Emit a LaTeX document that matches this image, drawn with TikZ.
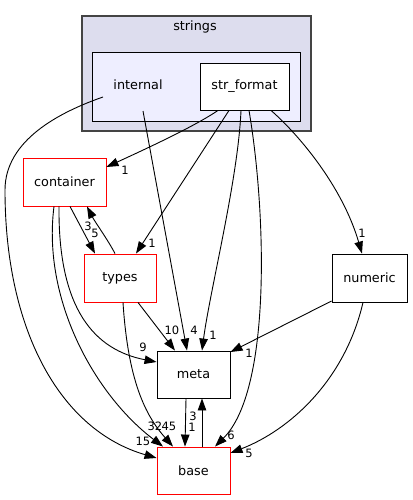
\documentclass[tikz,border=0pt]{standalone}
\usepackage{fontspec}
\setmainfont{DejaVu Sans}
\usetikzlibrary{arrows.meta}
\definecolor{outerfill}{HTML}{DDDDEE}
\definecolor{outerdraw}{HTML}{444444}
\definecolor{innerfill}{HTML}{EEEEFF}
\definecolor{redline}{HTML}{FF0000}
\begin{document}
\begin{tikzpicture}[x=1pt,y=-1pt,
  nodefont/.style={font=\fontsize{12.8}{15}\selectfont},
  lblfont/.style={font=\fontsize{11.5}{13}\selectfont, inner sep=0pt},
  dirbox/.style={draw=black, fill=white, line width=0.9pt, inner sep=0pt, nodefont},
  redbox/.style={dirbox, draw=redline},
  conn/.style={draw=black, line width=0.9pt, -{Triangle[length=12pt,width=8.5pt]}},
]
\useasboundingbox (0,0) rectangle (412,500);
% clusters
\node (stringsbox) [draw=outerdraw, fill=outerfill, line width=1.2pt, inner sep=0pt,
  minimum width=229pt, minimum height=115pt] at (196.5,73.5) {};
\node (stringslbl) [nodefont, inner sep=0pt] at (195,27) {strings};
\node (internalbox) [draw=black, fill=innerfill, line width=0.9pt, inner sep=0pt,
  minimum width=208pt, minimum height=69pt] at (196,86.5) {};
\node (internal) [nodefont, inner sep=0pt] at (138,85) {internal};
% nodes
\node (strformat) [dirbox, minimum width=89pt, minimum height=47pt] at (244.5,86.5) {str\_format};
\node (container) [redbox, minimum width=83pt, minimum height=48pt] at (64.5,182) {container};
\node (types) [redbox, minimum width=72pt, minimum height=48pt] at (120,278) {types};
\node (meta) [dirbox, minimum width=73pt, minimum height=47pt] at (193.5,374.5) {meta};
\node (base) [redbox, minimum width=73pt, minimum height=47pt] at (193.5,470.5) {base};
\node (numeric) [dirbox, minimum width=75pt, minimum height=48pt] at (369.5,278) {numeric};
% edges from str_format
\draw[conn] ([shift={(-26.5,0)}]strformat.south) .. controls (195,126) and (150,147) .. ([shift={(0,-15)}]container.east);
\draw[conn] ([shift={(-15.5,0)}]strformat.south) -- ([shift={(16,0)}]types.north);
\draw[conn] ([shift={(-3.5,0)}]strformat.south) .. controls (238,180) and (210,290) .. ([shift={(8.5,0)}]meta.north);
\draw[conn] ([shift={(4.5,0)}]strformat.south) .. controls (266,210) and (272,390) .. ([shift={(21.5,0)}]base.north);
\draw[conn] ([shift={(26.5,0)}]strformat.south) .. controls (297,133) and (342,185) .. ([shift={(-7.5,0)}]numeric.north);
% edges from internal
\draw[conn] ([shift={(5,26)}]internal.center) -- ([shift={(-6.5,0)}]meta.north);
\draw[conn] ([shift={(-35,12)}]internal.center) .. controls (60,112) and (5,140) .. (5,190)
  .. controls (5,330) and (60,430) .. ([shift={(0,-12.5)}]base.west);
% container / types
\draw[conn] ([shift={(5.5,0)}]container.south) -- ([shift={(-25,0)}]types.north);
\draw[conn] ([shift={(-5,0)}]types.north) .. controls (108,240) and (95,222) .. ([shift={(22.5,0)}]container.south);
\draw[conn] ([shift={(-5.5,0)}]container.south) .. controls (58,310) and (95,350) .. ([shift={(0,-12.5)}]meta.west);
\draw[conn] ([shift={(-10.5,0)}]container.south) .. controls (42,300) and (95,395) .. ([shift={(-30.5,0)}]base.north);
\draw[conn] ([shift={(3,0)}]types.south) .. controls (128,380) and (145,415) .. ([shift={(-20.5,0)}]base.north);
\draw[conn] ([shift={(18,0)}]types.south) -- ([shift={(-18.5,0)}]meta.north);
% meta / base
\draw[conn] ([shift={(-7.5,0)}]meta.south) -- ([shift={(-8.5,0)}]base.north);
\draw[conn] ([shift={(8.5,0)}]base.north) -- ([shift={(8.5,0)}]meta.south);
% numeric
\draw[conn] ([shift={(0,23)}]numeric.west) -- ([shift={(0,-22.5)}]meta.east);
\draw[conn] ([shift={(-6.5,0)}]numeric.south) .. controls (345,380) and (290,430) .. ([shift={(0,-17.5)}]base.east);
% edge labels
\node (l1) [lblfont] at (125,170) {1};
\node (l2) [lblfont] at (152,243) {1};
\node (l3) [lblfont] at (213,335) {1};
\node (l4) [lblfont] at (231,435) {6};
\node (l5) [lblfont] at (362,233) {1};
\node (l6) [lblfont] at (194,330) {4};
\node (l7) [lblfont] at (143,441) {15};
\node (l8) [lblfont] at (95,233) {5};
\node (l9) [lblfont] at (88,226) {3};
\node (l10) [lblfont] at (143,347) {9};
\node (l11) [lblfont] at (155,426) {32};
\node (l12) [lblfont] at (169,426) {45};
\node (l13) [lblfont] at (172,330) {10};
\node (l14) [lblfont] at (192,427) {1};
\node (l15) [lblfont] at (193,416) {3};
\node (l16) [lblfont] at (249,353) {1};
\node (l17) [lblfont] at (249,453) {5};
\end{tikzpicture}
\end{document}
